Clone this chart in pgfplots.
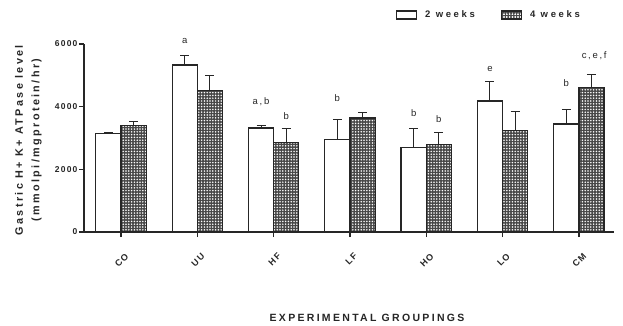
\documentclass[border=0pt]{standalone}
\usepackage{pgfplots}
\pgfplotsset{compat=1.18}
\usetikzlibrary{patterns.meta}
\usepackage{fontspec}
\setmainfont{Liberation Sans}
\newfontfamily\lblfont[LetterSpace=22]{Liberation Sans}
\newfontfamily\tickfont[LetterSpace=14]{Liberation Sans}
\newfontfamily\smallfont[LetterSpace=18]{Liberation Sans}
\newfontfamily\legfont[LetterSpace=28]{Liberation Sans}
\definecolor{ink}{gray}{0.15}
\begin{document}
\begin{tikzpicture}
\begin{axis}[
  at={(0pt,0pt)}, anchor=south west,
  scale only axis, width=530pt, height=188pt,
  xmin=-0.485, xmax=6.46, ymin=0, ymax=6000,
  axis x line*=bottom, axis y line*=left,
  axis line style={line width=1.2pt, ink, -},
  every tick/.style={line width=1.2pt, ink},
  tick align=outside, major tick length=5pt,
  xtick={0,...,6}, xticklabels={CO,UU,HF,LF,HO,LO,CM},
  ytick={0,2000,4000,6000},
  /pgf/number format/1000 sep={},
  /pgf/number format/assume math mode=true,
  y tick label style={font=\tickfont\bfseries\fontsize{8.5}{10}\selectfont, color=ink, xshift=2pt},
  x tick label style={rotate=45, anchor=north east, font=\tickfont\bfseries\fontsize{9}{10}\selectfont, color=ink, xshift=-5pt, yshift=-10pt},
  xlabel={EXPERIMENTAL GROUPINGS},
  xlabel style={at={(axis description cs:0.534,-0.457)}, anchor=center, font=\lblfont\bfseries\fontsize{10.5}{12}\selectfont, color=ink},
  ylabel={Gastric H+ K+ ATPase level\\(mmolpi/mgprotein/hr)},
  ylabel style={at={(axis description cs:-0.105,0.489)}, anchor=center, align=center, font=\lblfont\bfseries\fontsize{10.8}{16.5}\selectfont, color=ink},
  clip=false,
  legend columns=2,
  legend style={draw=none, fill=none, at={(axis description cs:0.764,1.154)}, anchor=center,
    font=\legfont\bfseries\fontsize{9.5}{11}\selectfont, text=ink,
    /tikz/every odd column/.append style={column sep=6pt},
    /tikz/every even column/.append style={column sep=24pt}},
  legend cell align=left,
]
\addplot[ybar, bar width=0.33, bar shift=0pt, fill=white, draw=ink, line width=1.2pt,
  legend image code/.code={\draw[fill=white, draw=ink, line width=1.2pt] (0pt,-4pt) rectangle (20pt,4pt);},
  error bars/.cd, y dir=plus, y explicit,
  error bar style={line width=1pt, ink},
  error mark options={line width=1pt, mark size=4.5pt, ink, rotate=90}]
coordinates {
(-0.165,3150) +- (0,20)
(0.835,5330) +- (0,290)
(1.835,3320) +- (0,80)
(2.835,2960) +- (0,640)
(3.835,2700) +- (0,600)
(4.835,4180) +- (0,630)
(5.835,3450) +- (0,465)
};
\addlegendentry{2 weeks}
\addplot[ybar, bar width=0.33, bar shift=0pt, fill=black!72, draw=ink, line width=1.2pt,
  postaction={pattern={Dots[distance=2.8pt, radius=0.85pt]}, pattern color=white},
  legend image code/.code={\draw[fill=black!72, draw=ink, line width=1.2pt, postaction={pattern={Dots[distance=2.8pt, radius=0.85pt]}, pattern color=white}] (0pt,-4pt) rectangle (20pt,4pt);},
  error bars/.cd, y dir=plus, y explicit,
  error bar style={line width=1pt, ink},
  error mark options={line width=1pt, mark size=4.5pt, ink, rotate=90}]
coordinates {
(0.165,3390) +- (0,130)
(1.165,4510) +- (0,490)
(2.165,2860) +- (0,440)
(3.165,3640) +- (0,190)
(4.165,2790) +- (0,370)
(5.165,3230) +- (0,630)
(6.165,4620) +- (0,420)
};
\addlegendentry{4 weeks}
\begin{scope}[every node/.style={font=\smallfont\fontsize{9.5}{11}\selectfont, text=ink}]
\node at (axis cs:0.835,6112) {a};
\node at (axis cs:1.835,4159) {a,b};
\node at (axis cs:2.165,3702) {b};
\node at (axis cs:2.835,4277) {b};
\node at (axis cs:3.835,3798) {b};
\node at (axis cs:4.165,3607) {b};
\node at (axis cs:4.835,5203) {e};
\node at (axis cs:5.835,4765) {b};
\node at (axis cs:6.2,5617) {c,e,f};
\end{scope}
\end{axis}
\pgfresetboundingbox
\useasboundingbox (-84pt,-93pt) rectangle (539pt,232pt);
\end{tikzpicture}
\end{document}
